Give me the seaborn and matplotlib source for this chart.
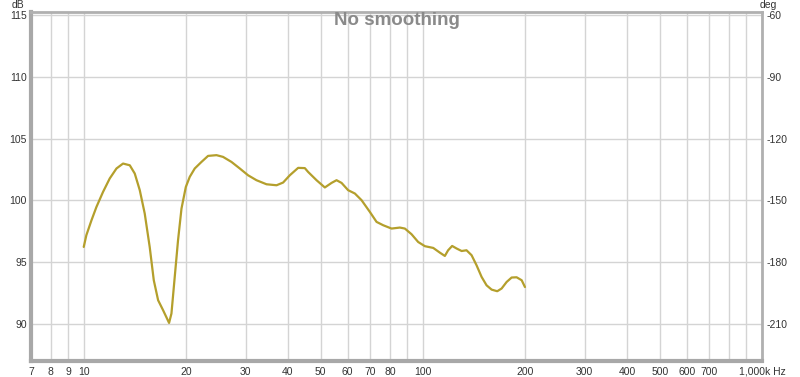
import numpy as np
import pandas as pd
import seaborn as sns
import matplotlib
matplotlib.use("Agg")
import matplotlib.pyplot as plt
from matplotlib.ticker import FixedLocator, FixedFormatter, NullLocator

# Data
freq_hz = [10.0, 10.18, 10.54, 10.90, 11.40, 11.93, 12.49, 13.06, 13.67, 14.14,
           14.63, 15.13, 15.65, 16.09, 16.57, 17.14, 17.85, 18.14, 18.55, 18.97,
           19.42, 20.0, 20.54, 21.25, 22.24, 23.26, 24.63, 25.75, 27.27, 28.85,
           30.52, 32.31, 34.59, 37.03, 38.72, 40.52, 42.88, 44.87, 45.88, 48.58,
           51.4, 53.79, 55.65, 57.58, 60.21, 63.03, 65.95, 69.77, 73.02, 76.37,
           80.85, 85.54, 88.5, 92.6, 96.87, 101.4, 107.3, 112.2, 116.1, 118.7,
           122.0, 125.8, 130.1, 134.5, 139.2, 144.0, 149.0, 154.1, 159.5, 165.7,
           170.7, 176.6, 182.7, 189.0, 195.6, 200.0]
spl_db = [96.21, 97.16, 98.37, 99.45, 100.67, 101.76, 102.57, 102.97, 102.83, 102.16,
          100.81, 98.92, 96.21, 93.51, 91.89, 91.08, 90.05, 90.81, 93.78, 96.75,
          99.32, 101.07, 101.89, 102.57, 103.1, 103.59, 103.65, 103.51, 103.1, 102.57,
          102.02, 101.62, 101.29, 101.21, 101.43, 102.02, 102.62, 102.6, 102.29, 101.62,
          101.03, 101.40, 101.62, 101.40, 100.81, 100.54, 100.0, 99.05, 98.24, 97.97,
          97.70, 97.78, 97.70, 97.24, 96.61, 96.27, 96.13, 95.75, 95.48, 95.94,
          96.29, 96.08, 95.88, 95.94, 95.54, 94.72, 93.78, 93.1, 92.75, 92.62,
          92.84, 93.37, 93.73, 93.75, 93.51, 92.96]

x_grid = [7, 8, 9, 10, 20, 30, 40, 50, 60, 70, 80, 90, 100,
          200, 300, 400, 500, 600, 700, 800, 900, 1000]
x_labels = ["7", "8", "9", "10", "20", "30", "40", "50", "60", "70", "80", "", "100",
            "200", "300", "400", "500", "600", "700", "", "", "1,000k Hz"]
db_ticks = [90, 95, 100, 105, 110, 115]
deg_ticks = [-210, -180, -150, -120, -90, -60]

sns.set_style("white")
plt.rcParams['font.family'] = ['Liberation Sans', 'DejaVu Sans']

df = pd.DataFrame({"Frequency": freq_hz, "SPL": spl_db})

fig = plt.figure(figsize=(8, 3.77), dpi=100)
ax = fig.add_axes([0.039, 0.042, 0.9135, 0.926])

grid_col = "#d4d4d4"
for f in x_grid:
    ax.axvline(f, color=grid_col, lw=1, zorder=0)
for d in db_ticks:
    ax.axhline(d, color=grid_col, lw=1, zorder=0)

sns.lineplot(data=df, x="Frequency", y="SPL", ax=ax, color="#b49f2c",
             linewidth=1.6, sort=False, zorder=3)

ax.set_xscale("log")
ax.set_xlim(7, 1000)
ax.set_ylim(86.95, 115.25)
ax.xaxis.set_major_locator(FixedLocator(x_grid))
ax.xaxis.set_major_formatter(FixedFormatter(x_labels))
ax.xaxis.set_minor_locator(NullLocator())
ax.set_yticks(db_ticks)
ax.set_yticklabels([str(d) for d in db_ticks])
ax.set_xlabel("")
ax.set_ylabel("")
ax.tick_params(axis="both", length=0, labelsize=7.5, colors="#333333")
ax.tick_params(axis="x", pad=4)
ax.tick_params(axis="y", pad=3)

for side in ["top", "right"]:
    ax.spines[side].set_color("#b0b0b0")
    ax.spines[side].set_linewidth(2)
for side in ["left", "bottom"]:
    ax.spines[side].set_color("#a8a8a8")
    ax.spines[side].set_linewidth(3)

# right-hand phase axis
ax2 = ax.twinx()
ax2.set_ylim(-60 + (86.95 - 115) * 6, -60 + (115.25 - 115) * 6)
ax2.set_yticks(deg_ticks)
ax2.set_yticklabels([str(d) for d in deg_ticks])
ax2.tick_params(axis="y", length=0, labelsize=7.5, colors="#333333", pad=3)
for s in ax2.spines.values():
    s.set_visible(False)

ax.text(0.5, 0.977, "No smoothing", transform=ax.transAxes, ha="center", va="center",
        fontsize=13.5, fontweight="bold", color="#8a8a8a")
fig.text(0.0225, 0.987, "dB", ha="center", va="center", fontsize=7.5, color="#333333")
fig.text(0.96, 0.987, "deg", ha="center", va="center", fontsize=7.5, color="#333333")

fig.savefig("out.png", dpi=100)
plt.close(fig)
